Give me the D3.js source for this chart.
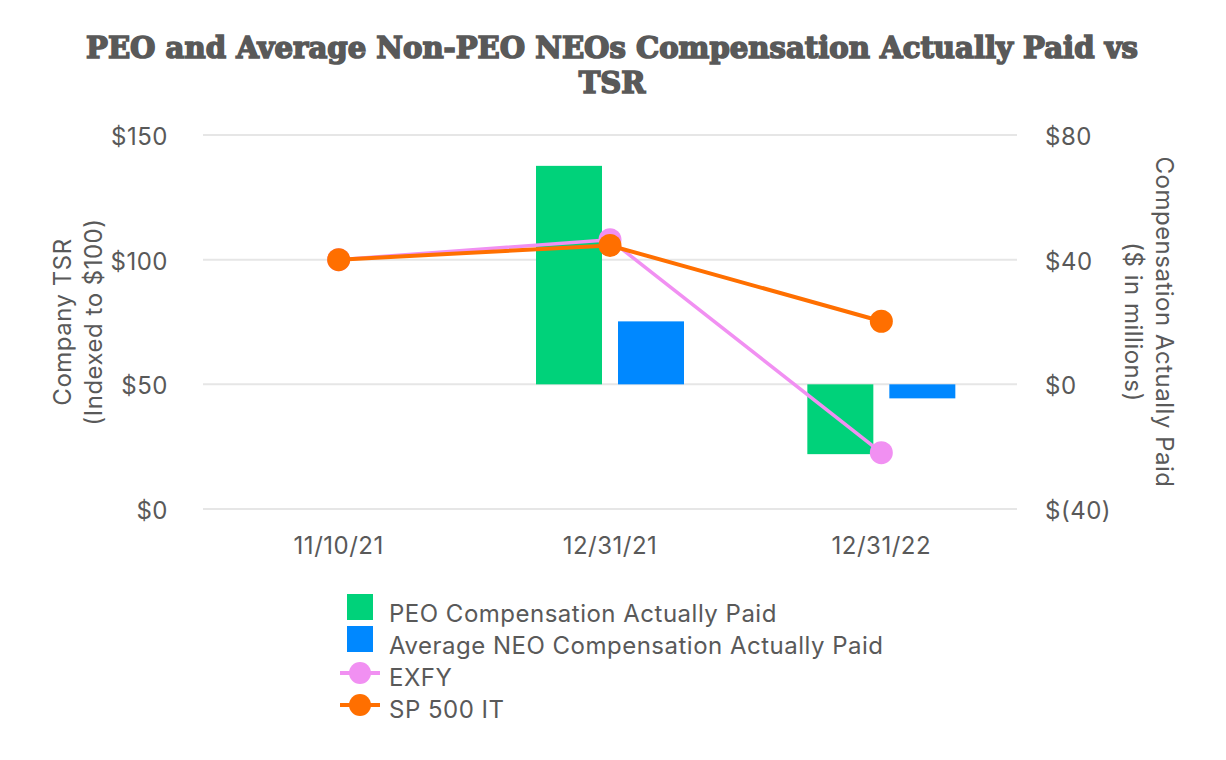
<!DOCTYPE html>
<html>
<head>
<meta charset="utf-8">
<script src="https://cdn.jsdelivr.net/npm/d3@7"></script>
<style>
  body { margin: 0; background: #fff; }
  svg text { font-family: Inter, "Noto Sans", sans-serif; fill: #595959; letter-spacing: 0.5px; }
</style>
</head>
<body>
<div id="chart"></div>
<script>
// data
const dates = ["11/10/21", "12/31/21", "12/31/22"];
const peoCap = [null, 70.1, -22.4];      // $ millions, right axis
const neoCap = [null, 20.2, -4.5];       // $ millions, right axis
const exfy = [100, 108, 22.6];           // indexed TSR, left axis
const sp500it = [100, 105.7, 75.3];      // indexed TSR, left axis
const leftTicks = [0, 50, 100, 150];
const rightTicks = [-40, 0, 40, 80];

const W = 1226, H = 760;
const margin = { top: 135, right: 209, bottom: 251, left: 203 },
      width = W - margin.left - margin.right,
      height = H - margin.top - margin.bottom;

const colors = { peo: "#00d27a", neo: "#0088ff", exfy: "#f190f2", sp: "#ff6f00" };

const svg = d3.select("#chart").append("svg")
  .attr("width", W).attr("height", H);

// --- Title ---
const title = svg.append("text")
  .attr("text-anchor", "middle")
  .style("font-family", "'DejaVu Serif', serif")
  .style("font-weight", "bold")
  .style("font-size", "29px")
  .style("letter-spacing", "0px")
  .attr("stroke", "#595959").attr("stroke-width", 1.6);
title.append("tspan").attr("x", 612).attr("y", 58)
  .attr("textLength", 1052).attr("lengthAdjust", "spacingAndGlyphs")
  .text("PEO and Average Non-PEO NEOs Compensation Actually Paid vs");
title.append("tspan").attr("x", 612).attr("y", 93).text("TSR");

const g = svg.append("g").attr("transform", `translate(${margin.left},${margin.top})`);

const x = d3.scaleBand().domain(dates).range([0, width]);
const yL = d3.scaleLinear().domain([0, 150]).range([height, 0]);
const yR = d3.scaleLinear().domain([-40, 80]).range([height, 0]);

// gridlines
g.selectAll(".grid").data(leftTicks).enter().append("line")
  .attr("x1", 0).attr("x2", width)
  .attr("y1", d => yL(d)).attr("y2", d => yL(d))
  .attr("stroke", "#e6e6e6").attr("stroke-width", 2);

// axes (labels only)
const fmtL = d => `$${d}`;
const fmtR = d => d < 0 ? `$(${-d})` : `$${d}`;

const axL = g.append("g").call(d3.axisLeft(yL).tickValues(leftTicks).tickFormat(fmtL).tickSize(0).tickPadding(35));
const axR = g.append("g").attr("transform", `translate(${width},0)`)
  .call(d3.axisRight(yR).tickValues(rightTicks).tickFormat(fmtR).tickSize(0).tickPadding(28));
const axB = g.append("g").attr("transform", `translate(0,${height})`)
  .call(d3.axisBottom(x).tickSize(0).tickPadding(28));
[axL, axR, axB].forEach(a => {
  a.select(".domain").remove();
  a.selectAll("text").style("font-size", "24px").attr("fill", "#595959")
    .style("font-family", "Inter, sans-serif");
});
axL.selectAll("text").attr("dy", "0.4em");
axR.selectAll("text").attr("dy", "0.4em");

// bars
const sub = d3.scaleBand().domain(["peo", "neo"]).range([-74, 74]).paddingInner(16 / 82);
const barData = [];
dates.forEach((d, i) => {
  if (peoCap[i] != null) barData.push({ date: d, key: "peo", v: peoCap[i] });
  if (neoCap[i] != null) barData.push({ date: d, key: "neo", v: neoCap[i] });
});
g.selectAll(".bar").data(barData).enter().append("rect")
  .attr("x", d => x(d.date) + x.bandwidth() / 2 + sub(d.key))
  .attr("width", sub.bandwidth())
  .attr("y", d => yR(Math.max(0, d.v)))
  .attr("height", d => Math.abs(yR(d.v) - yR(0)))
  .attr("fill", d => colors[d.key]);

// lines
const cx = d => x(d) + x.bandwidth() / 2;
const series = [
  { key: "exfy", vals: exfy, w: 3.5 },
  { key: "sp", vals: sp500it, w: 4 }
];
series.forEach(s => {
  const pts = dates.map((d, i) => [cx(d), yL(s.vals[i])]);
  g.append("path").datum(pts)
    .attr("d", d3.line())
    .attr("fill", "none").attr("stroke", colors[s.key]).attr("stroke-width", s.w);
  g.selectAll(".pt-" + s.key).data(pts).enter().append("circle")
    .attr("cx", d => d[0]).attr("cy", d => d[1]).attr("r", 11.5)
    .attr("fill", colors[s.key]);
});

// axis titles
const leftT = svg.append("text")
  .attr("transform", `translate(78,${margin.top + height / 2}) rotate(-90)`)
  .attr("text-anchor", "middle").style("font-size", "24px");
leftT.append("tspan").attr("x", 0).attr("y", -7).text("Company TSR");
leftT.append("tspan").attr("x", 0).attr("y", 24).text("(Indexed to $100)");

const rightT = svg.append("text")
  .attr("transform", `translate(1149,${margin.top + height / 2}) rotate(90)`)
  .attr("text-anchor", "middle").style("font-size", "24px");
rightT.append("tspan").attr("x", 0).attr("y", -7).text("Compensation Actually Paid");
rightT.append("tspan").attr("x", 0).attr("y", 24).text("($ in millions)");

// legend
const legendItems = [
  { label: "PEO Compensation Actually Paid", key: "peo", type: "bar" },
  { label: "Average NEO Compensation Actually Paid", key: "neo", type: "bar" },
  { label: "EXFY", key: "exfy", type: "line" },
  { label: "SP 500 IT", key: "sp", type: "line" }
];
const lg = svg.append("g").attr("transform", "translate(337,622)");
legendItems.forEach((it, i) => {
  const row = lg.append("g").attr("transform", `translate(0,${i * 32})`);
  if (it.type === "bar") {
    row.append("rect").attr("x", 10).attr("y", -28).attr("width", 26).attr("height", 26)
      .attr("fill", colors[it.key]);
  } else {
    row.append("line").attr("x1", 3).attr("x2", 43).attr("y1", -13).attr("y2", -13)
      .attr("stroke", colors[it.key]).attr("stroke-width", 4);
    row.append("circle").attr("cx", 23).attr("cy", -13).attr("r", 11).attr("fill", colors[it.key]);
  }
  row.append("text").attr("x", 52).attr("y", 0)
    .style("font-size", "24px").text(it.label);
});
</script>
</body>
</html>
